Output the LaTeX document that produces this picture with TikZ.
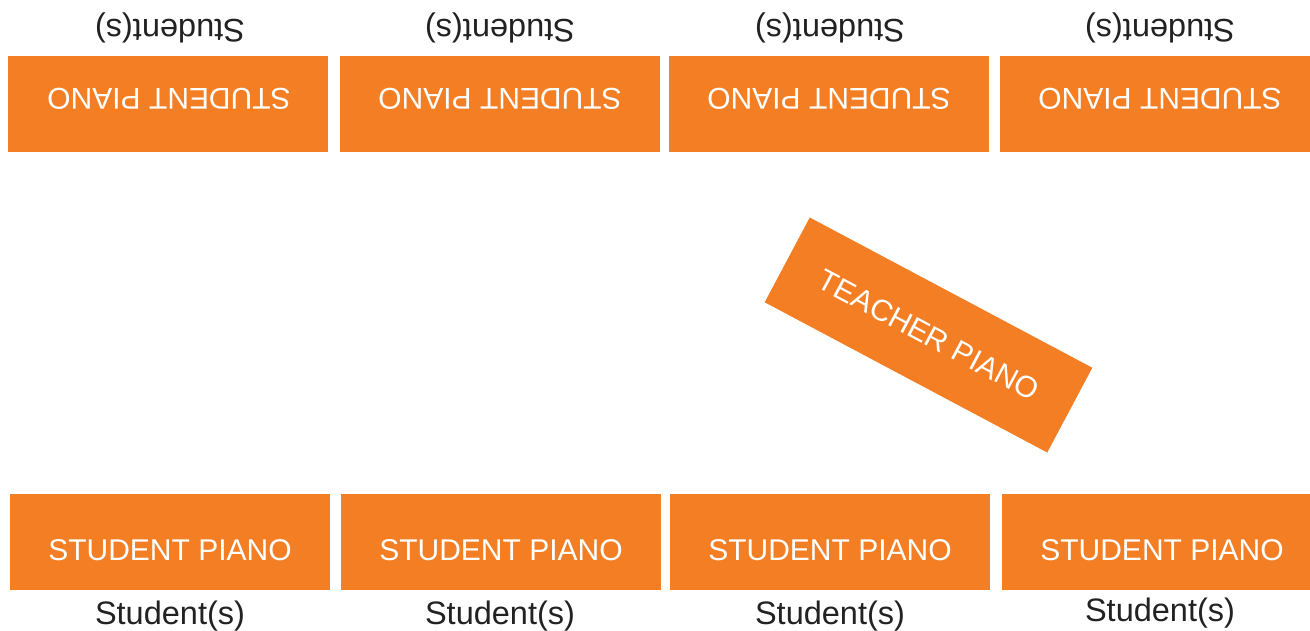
\documentclass[tikz,border=0pt]{standalone}
\usepackage{fontspec}
\setmainfont{Liberation Sans}
\definecolor{piano}{HTML}{F37E24}
\definecolor{txt}{HTML}{222222}
\begin{document}
\begin{tikzpicture}[x=1pt,y=-1pt,
  pianobox/.style={fill=piano,draw=none,minimum width=320pt,minimum height=96pt,inner sep=0pt},
  pianotxt/.style={text=white,font=\fontsize{30}{30}\selectfont,anchor=base,inner sep=0pt},
  stulabel/.style={text=txt,font=\fontsize{32.5}{32.5}\selectfont,anchor=base,inner sep=0pt}]
\useasboundingbox (0,0) rectangle (1310,630);
% top row (upside down)
\node[pianobox] (t1) at (168,104) {};
\node[pianobox] (t2) at (500,104) {};
\node[pianobox] (t3) at (829,104) {};
\node[pianobox] (t4) at (1160,104) {};
\node[pianotxt,rotate=180] (tt1) at (169,88) {STUDENT PIANO};
\node[pianotxt,rotate=180] (tt2) at (500,88) {STUDENT PIANO};
\node[pianotxt,rotate=180] (tt3) at (829,88) {STUDENT PIANO};
\node[pianotxt,rotate=180] (tt4) at (1160,88) {STUDENT PIANO};
\node[stulabel,rotate=180] (ts1) at (170,19) {Student(s)};
\node[stulabel,rotate=180] (ts2) at (500,19) {Student(s)};
\node[stulabel,rotate=180] (ts3) at (830,19) {Student(s)};
\node[stulabel,rotate=180] (ts4) at (1160,19) {Student(s)};
% bottom row
\node[pianobox] (b1) at (170,542) {};
\node[pianobox] (b2) at (501,542) {};
\node[pianobox] (b3) at (830,542) {};
\node[pianobox] (b4) at (1162,542) {};
\node[pianotxt] (bt1) at (170,560) {STUDENT PIANO};
\node[pianotxt] (bt2) at (501,560) {STUDENT PIANO};
\node[pianotxt] (bt3) at (830,560) {STUDENT PIANO};
\node[pianotxt] (bt4) at (1162,560) {STUDENT PIANO};
\node[stulabel] (bs1) at (170,624) {Student(s)};
\node[stulabel] (bs2) at (500,624) {Student(s)};
\node[stulabel] (bs3) at (830,624) {Student(s)};
\node[stulabel] (bs4) at (1160,621) {Student(s)};
% teacher piano
\node[pianobox,rotate=-28,text=white,font=\fontsize{30}{30}\selectfont] (tp) at (928.5,335) {TEACHER PIANO};
\end{tikzpicture}
\end{document}
